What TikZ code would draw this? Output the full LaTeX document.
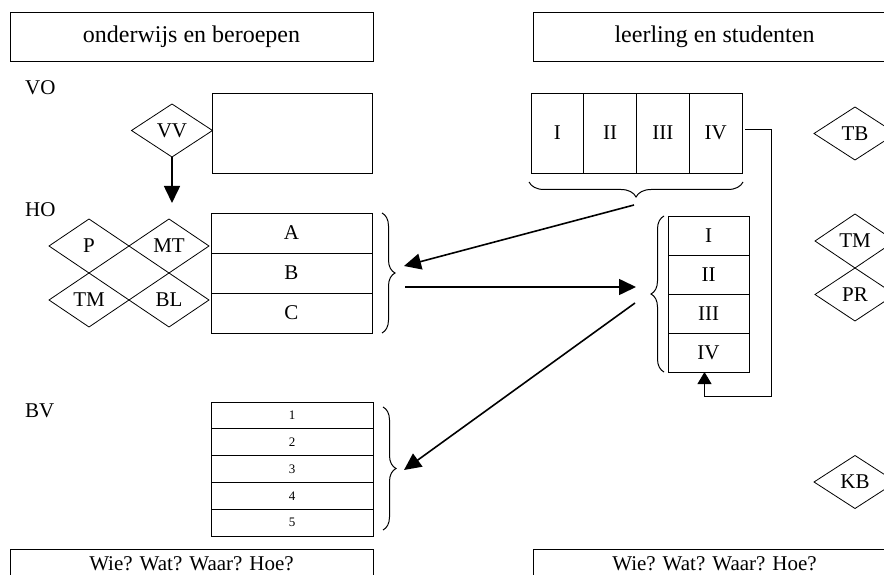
\documentclass[tikz,border=0pt]{standalone}
\usepackage{fontspec}
\setmainfont{Liberation Serif}
\usetikzlibrary{arrows.meta, positioning, shapes.geometric, decorations.pathreplacing}

\begin{document}
\begin{tikzpicture}[
x=1pt, y=-1pt,
font=\fontsize{21}{25}\selectfont,
box/.style={draw,
rectangle,
line width=0.9pt,
inner sep=0pt,
minimum width=363pt,
minimum height=49pt},
cell/.style={draw,
rectangle,
line width=0.9pt,
inner sep=0pt,
outer sep=0pt,
minimum width=161pt,
minimum height=40pt},
hcell/.style={cell, minimum width=52.75pt, minimum height=80pt},
vcell/.style={cell, minimum width=81pt, minimum height=39pt},
numcell/.style={cell, minimum height=26.8pt, font=\fontsize{13}{15}\selectfont},
dia/.style={draw,
diamond,
line width=0.8pt,
inner sep=0pt,
outer sep=0pt,
minimum width=80pt,
minimum height=54pt},
lbl/.style={inner sep=0pt, anchor=west},
arrow/.style={-{Triangle[length=17pt, width=16pt]}, line width=1.6pt},
looparrow/.style={-{Triangle[length=12pt, width=14pt]}, line width=0.9pt},
brc/.style={decorate, decoration={brace, amplitude=13pt}, line width=1pt} ]

\useasboundingbox (0,0) rectangle (884,575);
\clip (0,0) rectangle (884,575);

% headers
\node[box, font=\fontsize{24}{28}\selectfont] (ob) at (191.5,36.5) {onderwijs en beroepen};
\node[box, font=\fontsize{24}{28}\selectfont] (ls) at (714.5,36.5) {leerling en studenten};
\node[box, anchor=north, text height=18pt, text depth=25pt] (wl) at (191.5,549) {Wie? Wat? Waar? Hoe?};
\node[box, anchor=north, text height=18pt, text depth=25pt] (wr) at (714.5,549) {Wie? Wat? Waar? Hoe?};

% left side
\node[lbl] (vo) at (25,88) {VO};
\node[lbl] (ho) at (25,210) {HO};
\node[lbl] (bv) at (25,411) {BV};

\node[dia, minimum width=81pt, minimum height=53pt] (vv) at (172,130.5) {VV};
\node[cell, minimum height=80pt, minimum width=160pt] (vorect) at (292,133) {};
\coordinate (vvend) at (172,203);

\node[dia] (p) at (89,246) {P};
\node[dia, right=0pt of p] (mt) {MT};
\node[dia, below=0pt of p] (tm) {TM};
\node[dia, below=0pt of mt] (bl) {BL};

\node[cell] (a) at (291.5,233) {A};
\node[cell, below=0pt of a] (b) {B};
\node[cell, below=0pt of b] (c) {C};

\node[numcell, minimum width=162pt] (n1) at (292,415.4) {1};
\node[numcell, minimum width=162pt, below=0pt of n1] (n2) {2};
\node[numcell, minimum width=162pt, below=0pt of n2] (n3) {3};
\node[numcell, minimum width=162pt, below=0pt of n3] (n4) {4};
\node[numcell, minimum width=162pt, below=0pt of n4] (n5) {5};

% right side
\node[hcell] (h1) at (557.4,133) {I};
\node[hcell, right=0pt of h1] (h2) {II};
\node[hcell, right=0pt of h2] (h3) {III};
\node[hcell, right=0pt of h3] (h4) {IV};

\node[vcell] (v1) at (708.5,235.5) {I};
\node[vcell, below=0pt of v1] (v2) {II};
\node[vcell, below=0pt of v2] (v3) {III};
\node[vcell, below=0pt of v3] (v4) {IV};

\node[dia, minimum width=82pt, minimum height=53pt] (tb) at (855,133.5) {TB};
\node[dia] (tm2) at (855,241) {TM};
\node[dia, minimum height=53pt, below=0pt of tm2] (pr) {PR};
\node[dia, minimum width=82pt, minimum height=53pt] (kb) at (855,482) {KB};

% braces
\draw[brc, decoration={amplitude=15pt}] ([xshift=1pt,yshift=-9pt]h4.south east) -- ([xshift=-2pt,yshift=-9pt]h1.south west);
\draw[brc] ([xshift=10pt]a.north east) -- ([xshift=10pt]c.south east);
\draw[brc] ([xshift=-4pt]v4.south west) -- ([xshift=-4pt]v1.north west);
\draw[brc] ([xshift=10pt,yshift=-5pt]n1.north east) -- ([xshift=10pt,yshift=6pt]n5.south east);

\coordinate (hbr) at (634,205);
\coordinate (abcin) at (404,266);
\coordinate (abcout) at (405,287);
\coordinate (vbrin) at (636,287);
\coordinate (vbrout) at (635,303);
\coordinate (nbr) at (404,470);

% connectors
\draw[arrow] (vv.south) -- (vvend);
\draw[arrow] (hbr) -- (abcin);
\draw[arrow] (abcout) -- (vbrin);
\draw[arrow] (vbrout) -- (nbr);
\draw[looparrow] ([xshift=3pt,yshift=4pt]h4.east) -| ++(26,267) -| ([xshift=-4pt]v4.south);

\end{tikzpicture}
\end{document}
